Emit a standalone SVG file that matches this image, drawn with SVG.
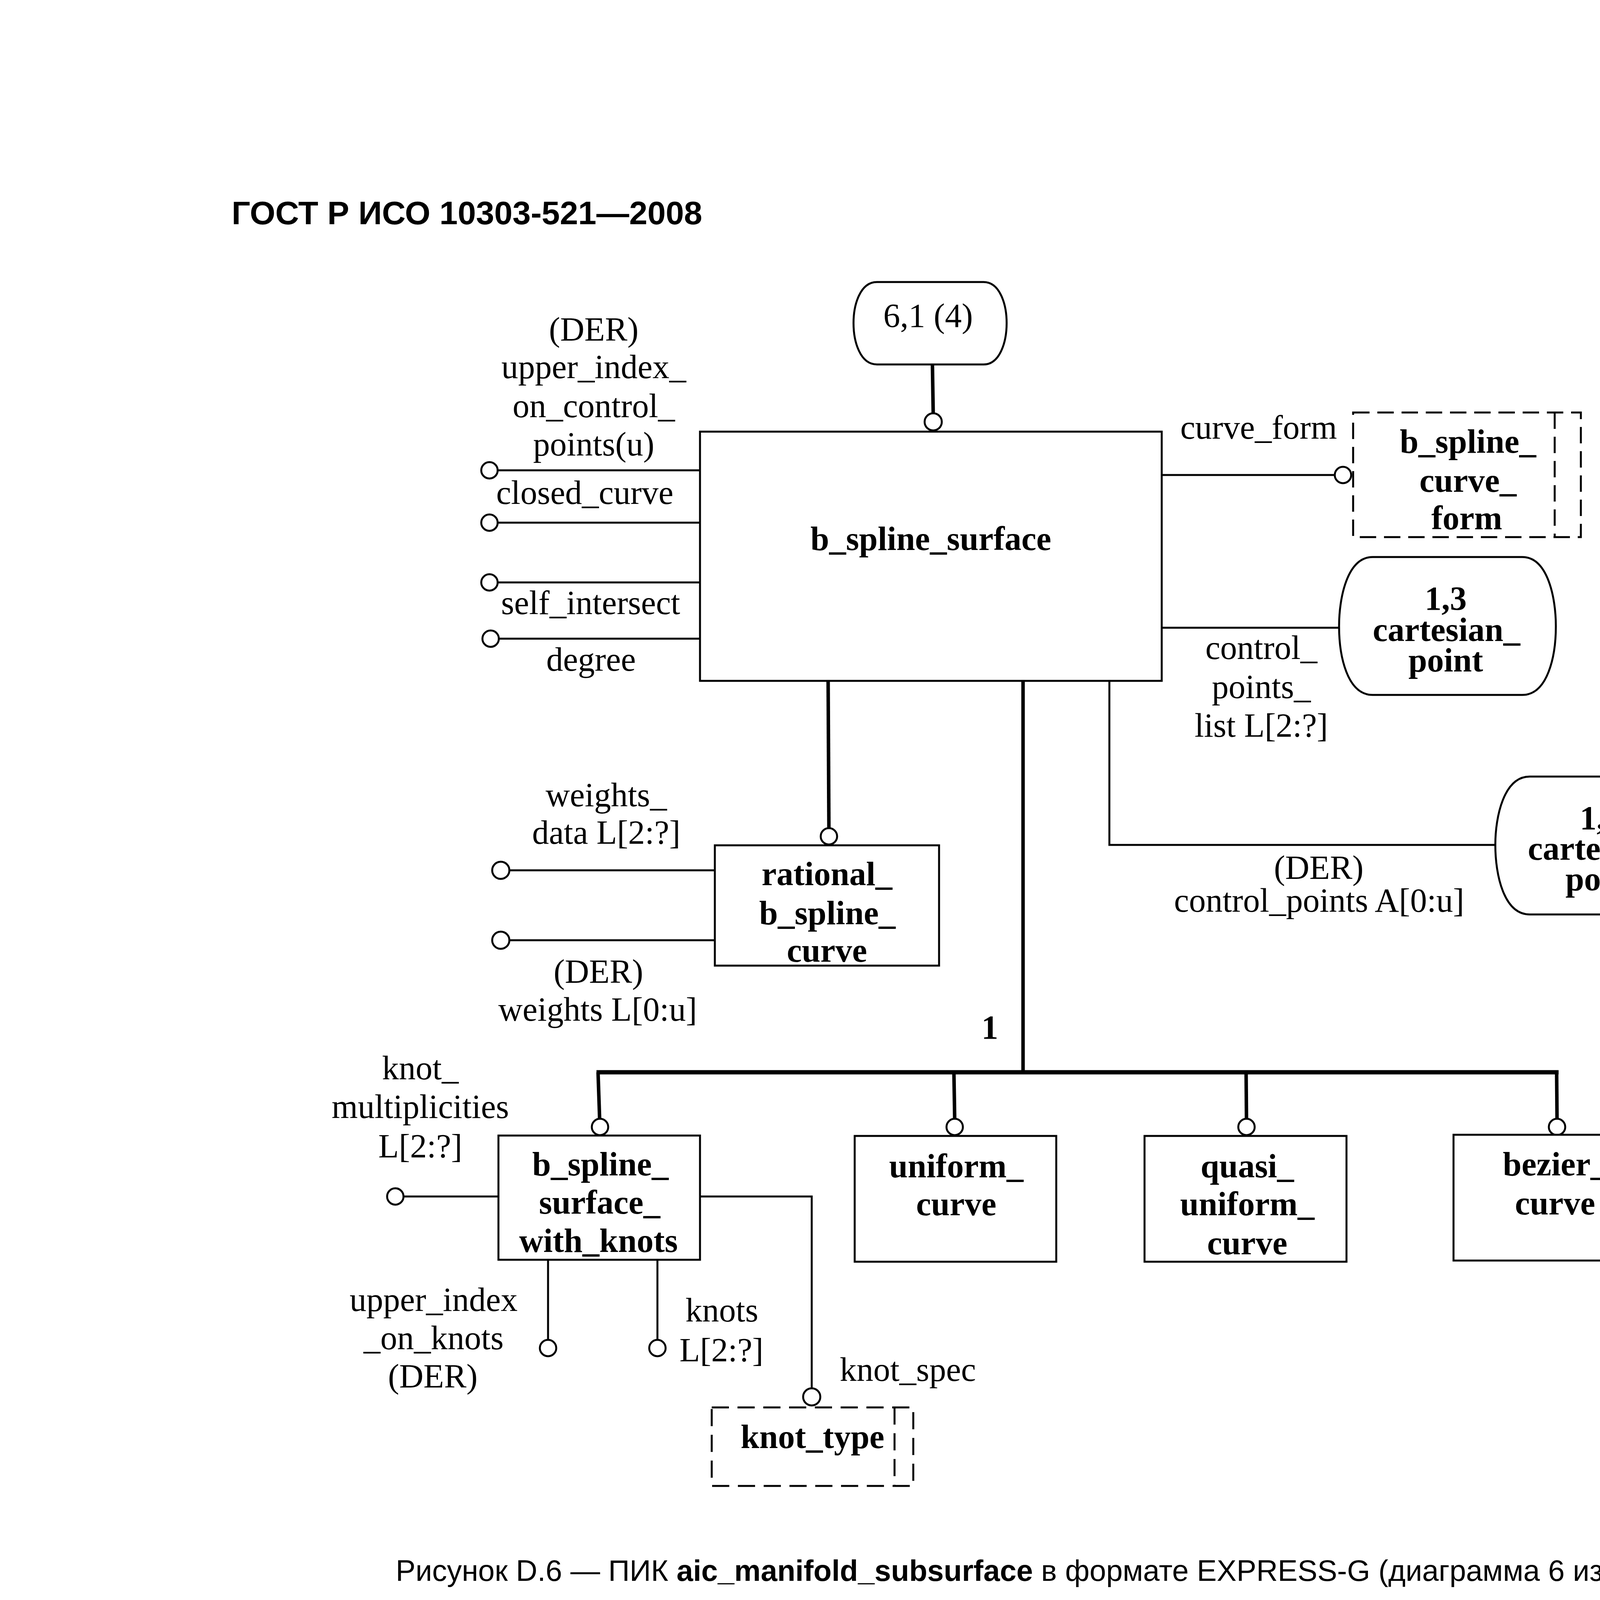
<svg xmlns="http://www.w3.org/2000/svg" width="5002" height="7075" viewBox="0 0 5002 7075">
<style>
.t{font-family:"Liberation Serif","Times New Roman",serif;font-size:86px;fill:#000;text-anchor:middle}
.b{font-weight:bold}
.s{font-family:"Liberation Sans",Arial,sans-serif;fill:#000}
.box{fill:#fff;stroke:#000;stroke-width:5}
.dbox{fill:#fff;stroke:#000;stroke-width:5;stroke-dasharray:42 20}
.dl{fill:none;stroke:#000;stroke-width:5;stroke-dasharray:42 20}
.ln{fill:none;stroke:#000;stroke-width:5}
.tk{fill:none;stroke:#000;stroke-width:9}
.tr{fill:none;stroke:#000;stroke-width:11}
.c{fill:#fff;stroke:#000;stroke-width:5}
</style>
<rect width="5002" height="7075" fill="#fff"/>
<text class="s" x="593" y="574" font-size="84" font-weight="bold">ГОСТ Р ИСО 10303-521—2008</text>

<g id="connectors">
  <!-- 6,1 (4) to b_spline_surface -->
  <line class="tk" x1="2387" y1="933" x2="2389" y2="1058"/>
  <circle class="c" cx="2389" cy="1080" r="22"/>
  <!-- left attributes of b_spline_surface -->
  <line class="ln" x1="1275" y1="1204" x2="1792" y2="1204"/>
  <circle class="c" cx="1253" cy="1204" r="21"/>
  <line class="ln" x1="1275" y1="1338" x2="1792" y2="1338"/>
  <circle class="c" cx="1253" cy="1338" r="21"/>
  <line class="ln" x1="1275" y1="1491" x2="1792" y2="1491"/>
  <circle class="c" cx="1253" cy="1491" r="21"/>
  <line class="ln" x1="1278" y1="1635" x2="1792" y2="1635"/>
  <circle class="c" cx="1256" cy="1635" r="21"/>
  <!-- curve_form -->
  <line class="ln" x1="2974" y1="1216" x2="3417" y2="1216"/>
  <circle class="c" cx="3438" cy="1216" r="21"/>
  <!-- control_points_list -->
  <line class="ln" x1="2974" y1="1607" x2="3430" y2="1607"/>
  <!-- control_points -->
  <polyline class="ln" points="2840,1743 2840,2163 3830,2163"/>
  <!-- rational_b_spline_curve subtype -->
  <line class="tk" x1="2120" y1="1743" x2="2122" y2="2120"/>
  <circle class="c" cx="2122" cy="2141" r="21"/>
  <!-- weights -->
  <line class="ln" x1="1304" y1="2228" x2="1830" y2="2228"/>
  <circle class="c" cx="1282" cy="2228" r="22"/>
  <line class="ln" x1="1304" y1="2407" x2="1830" y2="2407"/>
  <circle class="c" cx="1282" cy="2407" r="22"/>
  <!-- supertype tree -->
  <line class="tk" x1="2619" y1="1743" x2="2619" y2="2745"/>
  <line class="tr" x1="1527" y1="2745" x2="3990" y2="2745"/>
  <line class="tk" x1="1531" y1="2745" x2="1535" y2="2863"/>
  <circle class="c" cx="1536" cy="2885" r="21"/>
  <line class="tk" x1="2442" y1="2745" x2="2444" y2="2863"/>
  <circle class="c" cx="2444" cy="2885" r="21"/>
  <line class="tk" x1="3190" y1="2745" x2="3191" y2="2863"/>
  <circle class="c" cx="3191" cy="2885" r="21"/>
  <line class="tk" x1="3985" y1="2745" x2="3986" y2="2863"/>
  <circle class="c" cx="3986" cy="2885" r="21"/>
  <!-- b_spline_surface_with_knots attributes -->
  <line class="ln" x1="1033" y1="3063" x2="1276" y2="3063"/>
  <circle class="c" cx="1012" cy="3063" r="21"/>
  <line class="ln" x1="1403" y1="3225" x2="1403" y2="3430"/>
  <circle class="c" cx="1403" cy="3451" r="21"/>
  <line class="ln" x1="1683" y1="3225" x2="1683" y2="3430"/>
  <circle class="c" cx="1683" cy="3451" r="21"/>
  <polyline class="ln" points="1792,3063 2078,3063 2078,3554"/>
  <circle class="c" cx="2078" cy="3576" r="22"/>
</g>

<g id="labels">
  <text class="t" x="1520" y="872">(DER)</text>
  <text class="t" x="1520" y="968">upper_index_</text>
  <text class="t" x="1520" y="1068">on_control_</text>
  <text class="t" x="1520" y="1166">points(u)</text>
  <text class="t" x="1497" y="1290">closed_curve</text>
  <text class="t" x="1512" y="1572">self_intersect</text>
  <text class="t" x="1513" y="1717">degree</text>
  <text class="t" x="3222" y="1123">curve_form</text>
  <text class="t" x="3229" y="1687">control_</text>
  <text class="t" x="3229" y="1787">points_</text>
  <text class="t" x="3229" y="1886">list L[2:?]</text>
  <text class="t" x="3376" y="2250">(DER)</text>
  <text class="t" x="3377" y="2334">control_points A[0:u]</text>
  <text class="t" x="1552" y="2064">weights_</text>
  <text class="t" x="1552" y="2160">data L[2:?]</text>
  <text class="t" x="1532" y="2516">(DER)</text>
  <text class="t" x="1530" y="2613">weights L[0:u]</text>
  <text class="t b" x="2534" y="2659">1</text>
  <text class="t" x="1076" y="2763">knot_</text>
  <text class="t" x="1076" y="2862">multiplicities</text>
  <text class="t" x="1076" y="2963">L[2:?]</text>
  <text class="t" x="1110" y="3356">upper_index</text>
  <text class="t" x="1110" y="3454">_on_knots</text>
  <text class="t" x="1108" y="3552">(DER)</text>
  <text class="t" x="1848" y="3383">knots</text>
  <text class="t" x="1847" y="3485">L[2:?]</text>
  <text class="t" x="2324" y="3535">knot_spec</text>
</g>

<g id="node-page-ref">
  <path class="box" d="M2245,722 H2518 C2560,722 2577,780 2577,827 C2577,875 2560,933 2518,933 H2245 C2202,933 2185,875 2185,827 C2185,780 2202,722 2245,722 Z"/>
  <text class="t" x="2376" y="837">6,1 (4)</text>
</g>

<g id="node-b_spline_surface">
  <rect class="box" x="1792" y="1105" width="1182" height="638"/>
  <text class="t b" x="2383" y="1408">b_spline_surface</text>
</g>

<g id="node-b_spline_curve_form">
  <rect class="dbox" x="3464" y="1056" width="583" height="319"/>
  <line class="dl" x1="3980" y1="1056" x2="3980" y2="1375"/>
  <text class="t b" x="3758" y="1159">b_spline_</text>
  <text class="t b" x="3758" y="1259">curve_</text>
  <text class="t b" x="3755" y="1355">form</text>
</g>

<g id="node-cartesian_point-13">
  <path class="box" d="M3514,1426 H3897 C3962,1426 3983,1530 3983,1603 C3983,1680 3962,1779 3897,1779 H3514 C3449,1779 3428,1680 3428,1603 C3428,1530 3449,1426 3514,1426 Z"/>
  <text class="t b" x="3701" y="1561">1,3</text>
  <text class="t b" x="3703" y="1641">cartesian_</text>
  <text class="t b" x="3701" y="1719">point</text>
</g>

<g id="node-cartesian_point-14">
  <path class="box" d="M3916,1988 H4299 C4362,1988 4382,2090 4382,2163 C4382,2240 4362,2341 4299,2341 H3916 C3850,2341 3828,2240 3828,2163 C3828,2090 3850,1988 3916,1988 Z"/>
  <text class="t b" x="4098" y="2123">1,4</text>
  <text class="t b" x="4100" y="2201">cartesian_</text>
  <text class="t b" x="4103" y="2279">point</text>
</g>

<g id="node-rational_b_spline_curve">
  <rect class="box" x="1830" y="2164" width="574" height="308"/>
  <text class="t b" x="2117" y="2266">rational_</text>
  <text class="t b" x="2118" y="2366">b_spline_</text>
  <text class="t b" x="2117" y="2462">curve</text>
</g>

<g id="node-b_spline_surface_with_knots">
  <rect class="box" x="1276" y="2907" width="516" height="318"/>
  <text class="t b" x="1537" y="3009">b_spline_</text>
  <text class="t b" x="1535" y="3107">surface_</text>
  <text class="t b" x="1532" y="3205">with_knots</text>
</g>

<g id="node-uniform_curve">
  <rect class="box" x="2188" y="2908" width="516" height="322"/>
  <text class="t b" x="2448" y="3014">uniform_</text>
  <text class="t b" x="2448" y="3111">curve</text>
</g>

<g id="node-quasi_uniform_curve">
  <rect class="box" x="2930" y="2908" width="517" height="322"/>
  <text class="t b" x="3193" y="3014">quasi_</text>
  <text class="t b" x="3193" y="3111">uniform_</text>
  <text class="t b" x="3193" y="3211">curve</text>
</g>

<g id="node-bezier_curve">
  <rect class="box" x="3721" y="2905" width="518" height="322"/>
  <text class="t b" x="3981" y="3009">bezier_</text>
  <text class="t b" x="3981" y="3109">curve</text>
</g>

<g id="node-knot_type">
  <rect class="dbox" x="1822" y="3603" width="516" height="201" style="stroke-dasharray:44 22"/>
  <line class="dl" x1="2290" y1="3603" x2="2290" y2="3804" style="stroke-dasharray:44 22"/>
  <text class="t b" x="2080" y="3707">knot_type</text>
</g>

<text class="s" x="1013" y="4047" font-size="76">Рисунок D.6 — ПИК <tspan font-weight="bold">aic_manifold_subsurface</tspan> в формате EXPRESS-G (диаграмма 6 из 9)</text>
<text class="s" x="594" y="6497" font-size="77">18</text>
</svg>
